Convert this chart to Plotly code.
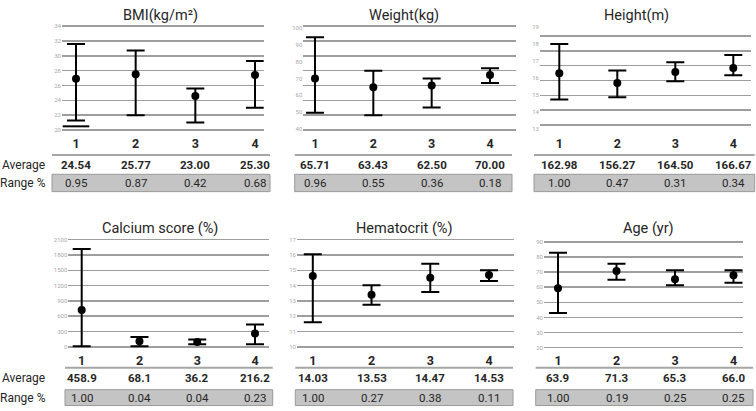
import numpy as np
import plotly.graph_objects as go

W, H = 756, 411
FONT = "Roboto"
TXT = "#262626"

# ---------------- data ----------------
categories = [1, 2, 3, 4]
cat_labels = ["1", "2", "3", "4"]
titles = ["BMI(kg/m²)", "Weight(kg)", "Height(m)",
          "Calcium score (%)", "Hematocrit (%)", "Age (yr)"]

bmi_mean = [26.9, 27.5, 24.6, 27.4]
bmi_upper = [31.6, 30.7, 25.6, 29.3]
bmi_lower = [21.3, 22.0, 21.0, 23.0]
bmi_extra_cap = [20.5, None, None, None]

weight_mean = [69.9, 64.8, 65.8, 72.0]
weight_upper = [94.3, 74.6, 69.9, 76.0]
weight_lower = [49.7, 48.2, 52.7, 67.3]

height_mean = [16.28, 15.70, 16.34, 16.58]
height_upper = [17.99, 16.44, 16.92, 17.35]
height_lower = [14.74, 14.87, 15.80, 16.15]

calcium_mean = [723, 109, 98, 264]
calcium_upper = [1919, 194, 147, 438]
calcium_lower = [12, 12, 50, 50]

hct_mean = [14.63, 13.40, 14.52, 14.70]
hct_upper = [16.05, 14.03, 15.42, 15.00]
hct_lower = [11.61, 12.76, 13.58, 14.30]

age_mean = [59.4, 70.7, 65.3, 67.9]
age_upper = [82.8, 75.6, 71.3, 71.3]
age_lower = [43.0, 65.0, 61.3, 63.0]

bmi_avg = ["24.54", "25.77", "23.00", "25.30"]
weight_avg = ["65.71", "63.43", "62.50", "70.00"]
height_avg = ["162.98", "156.27", "164.50", "166.67"]
calcium_avg = ["458.9", "68.1", "36.2", "216.2"]
hct_avg = ["14.03", "13.53", "14.47", "14.53"]
age_avg = ["63.9", "71.3", "65.3", "66.0"]

bmi_range = ["0.95", "0.87", "0.42", "0.68"]
weight_range = ["0.96", "0.55", "0.36", "0.18"]
height_range = ["1.00", "0.47", "0.31", "0.34"]
calcium_range = ["1.00", "0.04", "0.04", "0.23"]
hct_range = ["1.00", "0.27", "0.38", "0.11"]
age_range = ["1.00", "0.19", "0.25", "0.25"]

bmi_ticks = [20, 22, 24, 26, 28, 30, 32, 34]
weight_ticks = [40, 50, 60, 70, 80, 90, 100]
height_ticks = [13, 14, 15, 16, 17, 18, 19]
calcium_ticks = [0, 300, 600, 900, 1200, 1500, 1800, 2100]
hct_ticks = [10, 11, 12, 13, 14, 15, 16, 17]
age_ticks = [20, 30, 40, 50, 60, 70, 80, 90]

# ---------------- layout specs (pixels) ----------------
panels = [
    dict(mean=bmi_mean, up=bmi_upper, lo=bmi_lower, avg=bmi_avg, rng=bmi_range,
         ticks=bmi_ticks, grid=bmi_ticks, xdom=(62, 263.7), c1=76, c4=255,
         ya=(34, 24.3, 20, 129.3), row=0, tcx=160, tbl=(52, 270)),
    dict(mean=weight_mean, up=weight_upper, lo=weight_lower, avg=weight_avg, rng=weight_range,
         ticks=weight_ticks, grid=list(np.linspace(101.0, 39.4, 8)), xdom=(303.3, 516), c1=315, c4=490,
         ya=(100, 26, 40, 128.3), row=0, tcx=404, tbl=(294.7, 512)),
    dict(mean=height_mean, up=height_upper, lo=height_lower, avg=height_avg, rng=height_range,
         ticks=height_ticks, grid=list(np.linspace(18.46, 13.23, 7)), xdom=(540, 751), c1=559.3, c4=733.3,
         ya=(19, 25, 13, 128.3), row=0, tcx=636, tbl=(534, 754.7)),
    dict(mean=calcium_mean, up=calcium_upper, lo=calcium_lower, avg=calcium_avg, rng=calcium_range,
         ticks=calcium_ticks, grid=calcium_ticks, xdom=(68.3, 268.7), c1=81.7, c4=255,
         ya=(2100, 240, 0, 348.3), row=1, tcx=160, tbl=(65, 272.7)),
    dict(mean=hct_mean, up=hct_upper, lo=hct_lower, avg=hct_avg, rng=hct_range,
         ticks=hct_ticks, grid=hct_ticks, xdom=(297, 514), c1=312.8, c4=489,
         ya=(17, 240, 10, 348.3), row=1, tcx=404.5, tbl=(295.3, 513)),
    dict(mean=age_mean, up=age_upper, lo=age_lower, avg=age_avg, rng=age_range,
         ticks=age_ticks, grid=age_ticks, xdom=(544, 743.3), c1=558, c4=733.5,
         ya=(90, 242.3, 20, 349), row=1, tcx=648, tbl=(535.7, 753)),
]

rows = [
    dict(dom=(22.5, 131.0), title_y=14, ticklen=0, line_y=154.5, avg_y=165, band=(174, 191.5), rng_y=183),
    dict(dom=(238.5, 350.3), title_y=229, ticklen=0, line_y=369.3, avg_y=380, band=(391.5, 407.5), rng_y=400),
]

fig = go.Figure()
layout = dict(width=W, height=H, margin=dict(l=0, r=0, t=0, b=0),
              paper_bgcolor="white", plot_bgcolor="white",
              font=dict(family=FONT, color=TXT), showlegend=False)
shapes, annotations = [], []

for i, p in enumerate(panels, start=1):
    r = rows[p["row"]]
    xs = "" if i == 1 else str(i)
    sp = (p["c4"] - p["c1"]) / 3.0
    x_lo = 1 - (p["c1"] - p["xdom"][0]) / sp
    x_hi = 1 + (p["xdom"][1] - p["c1"]) / sp
    va, pa, vb, pb = p["ya"]
    k = (va - vb) / (pb - pa)
    y_top = va + (pa - r["dom"][0]) * k
    y_bot = va - (r["dom"][1] - pa) * k

    mean = np.array(p["mean"], float)
    up = np.array(p["up"], float)
    lo = np.array(p["lo"], float)
    fig.add_trace(go.Scatter(
        x=categories, y=mean, mode="markers",
        marker=dict(color="black", size=8),
        error_y=dict(type="data", symmetric=False, array=up - mean, arrayminus=mean - lo,
                     color="black", thickness=2, width=9),
        xaxis="x" + xs, yaxis="y" + xs, cliponaxis=False, hoverinfo="skip"))
    if i == 1:
        fig.add_trace(go.Scatter(
            x=categories, y=bmi_extra_cap, mode="markers",
            marker=dict(symbol="line-ew", size=19, color="black", line=dict(width=2, color="black")),
            xaxis="x", yaxis="y", cliponaxis=False, hoverinfo="skip"))

    layout["xaxis" + xs] = dict(
        domain=[p["xdom"][0] / W, p["xdom"][1] / W], range=[x_lo, x_hi],
        anchor="y" + xs, tickmode="array", tickvals=categories, ticktext=cat_labels,
        tickfont=dict(family=FONT, size=12.5, color=TXT, weight="bold"),
        ticks="outside", ticklen=r["ticklen"], tickcolor="rgba(0,0,0,0)",
        showgrid=False, zeroline=False, showline=False, fixedrange=True)
    layout["yaxis" + xs] = dict(
        domain=[1 - r["dom"][1] / H, 1 - r["dom"][0] / H], range=[y_bot, y_top],
        anchor="x" + xs, tickmode="array", tickvals=p["ticks"],
        ticktext=[str(t) for t in p["ticks"]],
        tickfont=dict(family=FONT, size=6, color="#a8a8a8"),
        ticks="", showgrid=False, zeroline=False, showline=False, fixedrange=True,
        minor=dict(tickmode="array", tickvals=p["grid"], showgrid=True,
                   gridcolor="#9e9e9e", gridwidth=1.6, ticks=""))

    annotations.append(dict(text=titles[i - 1], x=p["tcx"] / W, y=1 - r["title_y"] / H,
                            xref="paper", yref="paper", showarrow=False,
                            xanchor="center", yanchor="middle",
                            font=dict(family=FONT, size=14.5, color=TXT)))
    tx0, tx1 = p["tbl"]
    shapes.append(dict(type="line", xref="paper", yref="paper",
                       x0=tx0 / W, x1=tx1 / W, y0=1 - r["line_y"] / H, y1=1 - r["line_y"] / H,
                       line=dict(color="#a6a6a6", width=2)))
    shapes.append(dict(type="rect", xref="paper", yref="paper",
                       x0=tx0 / W, x1=tx1 / W, y0=1 - r["band"][1] / H, y1=1 - r["band"][0] / H,
                       fillcolor="#c4c4c4", line=dict(color="#9a9a9a", width=1), layer="below"))
    for c, a, g in zip(categories, p["avg"], p["rng"]):
        annotations.append(dict(text="<b>%s</b>" % a, x=c, y=1 - r["avg_y"] / H,
                                xref="x" + xs, yref="paper", showarrow=False,
                                xanchor="center", yanchor="middle",
                                font=dict(family=FONT, size=11.5, color=TXT)))
        annotations.append(dict(text=g, x=c, y=1 - r["rng_y"] / H,
                                xref="x" + xs, yref="paper", showarrow=False,
                                xanchor="center", yanchor="middle",
                                font=dict(family=FONT, size=11.5, color=TXT)))

for r in rows:
    annotations.append(dict(text="Average", x=47 / W, y=1 - r["avg_y"] / H, xref="paper", yref="paper",
                            showarrow=False, xanchor="right", yanchor="middle",
                            font=dict(family=FONT, size=12, color=TXT)))
    annotations.append(dict(text="Range %", x=48 / W, y=1 - r["rng_y"] / H, xref="paper", yref="paper",
                            showarrow=False, xanchor="right", yanchor="middle",
                            font=dict(family=FONT, size=12, color=TXT)))

layout["shapes"] = shapes
layout["annotations"] = annotations
fig.update_layout(**layout)
fig.write_html("out.html", config={"displayModeBar": False, "staticPlot": True},
               post_script="document.body.style.margin='0';document.body.style.padding='0';")
